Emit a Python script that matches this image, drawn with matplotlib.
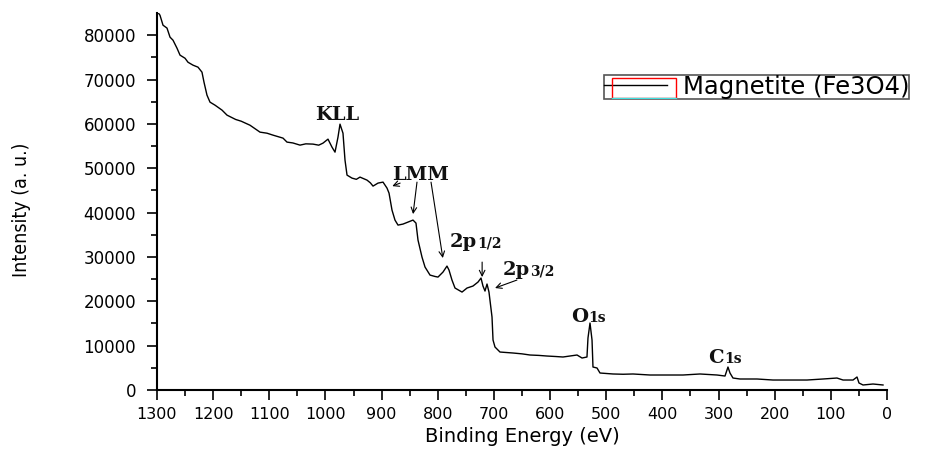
import matplotlib
matplotlib.use("Agg")
import matplotlib.pyplot as plt
from matplotlib.patches import Rectangle
from matplotlib.lines import Line2D

# ---- data ----
energy = [1297, 1294.7, 1289.3, 1282.2, 1276.8, 1271.5, 1264.4, 1259.0, 1250.1, 1244.8,
          1235.9, 1227.0, 1219.9, 1216.3, 1211.0, 1205.6, 1196.7, 1184.2, 1175.3, 1160,
          1150, 1134.4, 1116.6, 1104.1, 1093.4, 1075.6, 1068.5, 1058, 1045.3, 1035,
          1022.2, 1012, 1004.4, 995.5, 988.4, 983.0, 977.7, 974.1, 968.8, 965.2,
          961.6, 952.7, 945, 938.5, 926.0, 920, 915.3, 906.4, 897.5, 890.4,
          886.8, 881.5, 876.2, 870.8, 861.9, 853.0, 844.1, 838.8, 835.2, 828.1,
          822.7, 813.8, 805, 799.6, 790.7, 783.6, 780.0, 774.7, 769.3, 756.8,
          747.9, 737.3, 728.3, 723.0, 719.5, 715.9, 712.3, 708.8, 703.4, 701.6,
          698.1, 689.2, 666.0, 650, 635.8, 620, 605.5, 590, 577.0, 552.0,
          543.1, 534.3, 532.5, 528.9, 525.3, 523.6, 516.4, 511.1, 487.9, 470,
          452.3, 422.1, 391.8, 363.3, 333.0, 302.7, 288.5, 283.2, 279.6, 274.3,
          261.8, 244.0, 231.5, 203.0, 172.7, 142.5, 114.0, 89.1, 78.3, 60.5,
          53.4, 49.9, 42.7, 24.9, 7.1]
intensity = [84900, 84500, 82250, 81600, 79550, 78870, 77070, 75500, 74800, 73900,
             73240, 72790, 71660, 69400, 66480, 64900, 64220, 63100, 61970, 61000,
             60600, 59700, 58140, 57900, 57460, 56790, 55890, 55700, 55210, 55500,
             55440, 55200, 55660, 56560, 54760, 53630, 57010, 59940, 57900, 51830,
             48450, 47770, 47500, 48000, 47320, 46700, 45970, 46650, 46870, 45520,
             44390, 40560, 38310, 37180, 37410, 37860, 38310, 37630, 33800, 29970,
             27720, 25910, 25600, 25460, 26590, 27940, 27040, 24790, 22990, 22080,
             22990, 23440, 24340, 25240, 23440, 22310, 23890, 22080, 16450, 11270,
             9690, 8560, 8340, 8150, 7890, 7800, 7660, 7550, 7440, 7890,
             7210, 7440, 11720, 15100, 11270, 5180, 4960, 3830, 3610, 3550,
             3610, 3380, 3380, 3380, 3610, 3380, 3150, 5180, 3830, 2700,
             2480, 2480, 2480, 2250, 2250, 2250, 2480, 2700, 2250, 2250,
             2930, 1580, 1130, 1350, 1130]

xticks = [1300, 1200, 1100, 1000, 900, 800, 700, 600, 500, 400, 300, 200, 100, 0]
yticks = [0, 10000, 20000, 30000, 40000, 50000, 60000, 70000, 80000]
series_label = "Magnetite (Fe3O4)"

fig = plt.figure(figsize=(9.25, 4.49), dpi=100)
ax = fig.add_axes([157/925, 1-390/449, 730/925, 377/449])

line, = ax.plot(energy, intensity, color="black", lw=1.0)
ax.set_xlim(1300, 0)
ax.set_ylim(0, 85000)

for s in ["top", "right"]:
    ax.spines[s].set_visible(False)
for s in ["left", "bottom"]:
    ax.spines[s].set_linewidth(1.5)

ax.set_xticks(xticks)
ax.set_xticklabels([str(t) for t in xticks])
ax.set_xticks(range(50, 1300, 100), minor=True)
ax.set_yticks(yticks)
ax.set_yticklabels([str(t) for t in yticks])
ax.set_yticks(range(5000, 85000, 10000), minor=True)
ax.tick_params(axis="both", which="major", direction="out", length=7, width=1.2,
               labelsize=11.5, pad=5)
ax.tick_params(axis="both", which="minor", direction="out", length=4, width=1.2)
ax.tick_params(axis="y", which="major", pad=8, labelsize=12)

for lab in ax.get_xticklabels() + ax.get_yticklabels():
    lab.set_family("DejaVu Sans")

ax.set_xlabel("Binding Energy (eV)", fontsize=14, family="DejaVu Sans", labelpad=4)
fig.text(22/925, 1-210/449, "Intensity (a. u.)", rotation=90, ha="center", va="center",
         fontsize=14, family="DejaVu Sans", fontstretch="condensed")

# ---- peak annotations ----
serif = ["DejaVu Serif"]
big = 14
small = 10
tc = "#111111"
ax.text(980, 60850, "KLL", ha="center", va="baseline", fontsize=big, fontweight="bold",
        family=serif, color=tc)
ax.text(831, 47320, "LMM", ha="center", va="baseline", fontsize=big, fontweight="bold",
        family=serif, color=tc)

def split_label(x, y, main, sub):
    ax.text(x, y, main, ha="right", va="baseline", fontsize=big, fontweight="bold",
            family=serif, color=tc)
    ax.text(x, y, sub, ha="left", va="baseline", fontsize=small, fontweight="bold",
            family=serif, color=tc)

split_label(730, 32200, "2p", "1/2")
split_label(636, 25900, "2p", "3/2")
split_label(532, 15300, "O", "1s")
split_label(290, 6080, "C", "1s")

arrows = [((867, 46650), (881, 45970)),
          ((837, 46870), (844, 39660)),
          ((812, 46870), (791, 29750)),
          ((721, 28840), (721, 25460)),
          ((659, 24790), (698, 22990))]
for tail, tip in arrows:
    ax.annotate("", xy=tip, xytext=tail,
                arrowprops=dict(arrowstyle="->", lw=0.8, color="black",
                                shrinkA=0, shrinkB=0))

# ---- legend ----
leg = ax.legend([line], [series_label], loc="upper left",
                bbox_to_anchor=(604/925, 1-75/449), bbox_transform=fig.transFigure,
                prop={"family": "DejaVu Sans", "size": 17.5},
                frameon=True, fancybox=False, edgecolor="#555555", framealpha=1,
                borderpad=0.0, handlelength=2.6, handletextpad=0.65,
                borderaxespad=0)
leg.get_frame().set_linewidth(1.2)

fig.patches.append(Rectangle((612/925, 1-98/449), 64/925, 20/449, fill=False,
                             edgecolor="red", lw=1.0, transform=fig.transFigure,
                             figure=fig))
fig.lines.append(Line2D([612/925, 676/925], [1-98/449, 1-98/449], color="#40e0e0",
                        lw=1.0, transform=fig.transFigure, figure=fig))

fig.savefig("out.png", dpi=100)
